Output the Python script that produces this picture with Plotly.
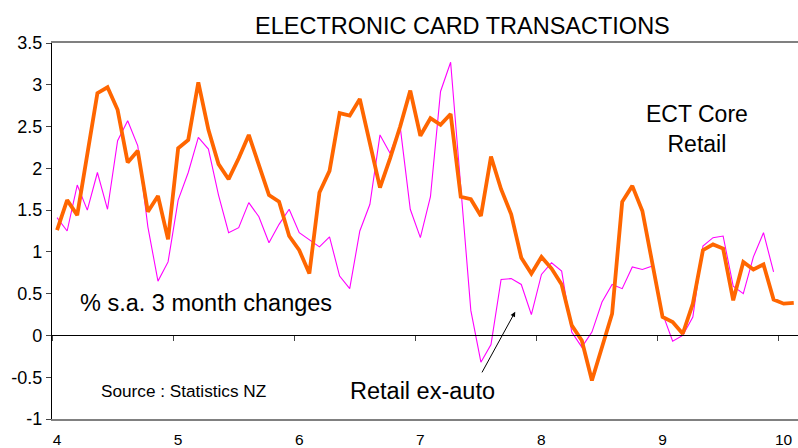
import plotly.graph_objects as go

# Monthly series (index k -> x = 4 + (k + 0.5) / 12)
ect_core_retail = [
    1.26, 1.62, 1.44, 2.15, 2.90, 2.97, 2.70, 2.07, 2.21, 1.48, 1.67, 1.15,
    2.24, 2.34, 3.03, 2.46, 2.05, 1.87, 2.12, 2.40, 2.04, 1.68, 1.60, 1.19,
    1.02, 0.74, 1.71, 1.97, 2.66, 2.63, 2.83, 2.30, 1.77, 2.12, 2.50, 2.93,
    2.39, 2.60, 2.52, 2.65, 1.66, 1.63, 1.43, 2.14, 1.75, 1.45, 0.93, 0.74,
    0.94, 0.80, 0.61, 0.12, -0.06, -0.54, -0.14, 0.26, 1.60, 1.79, 1.49, 0.86,
    0.22, 0.16, 0.02, 0.38, 1.02, 1.09, 1.04, 0.42, 0.88, 0.79, 0.85, 0.43,
    0.38, 0.39,
]
retail_ex_auto = [
    1.41, 1.25, 1.80, 1.50, 1.95, 1.51, 2.33, 2.57, 2.27, 1.30, 0.65, 0.88,
    1.62, 1.95, 2.37, 2.23, 1.68, 1.23, 1.29, 1.59, 1.42, 1.11, 1.33, 1.51,
    1.23, 1.14, 1.06, 1.18, 0.71, 0.56, 1.25, 1.57, 2.40, 2.18, 2.50, 1.51,
    1.17, 1.66, 2.92, 3.27, 1.80, 0.30, -0.32, -0.11, 0.67, 0.68, 0.61, 0.25,
    0.73, 0.87, 0.77, 0.04, -0.14, 0.04, 0.40, 0.61, 0.56, 0.82, 0.79, 0.83,
    0.26, -0.07, 0.00, 0.22, 1.07, 1.17, 1.19, 0.59, 0.50, 0.94, 1.23, 0.76,
]
x_tick_vals = [4, 5, 6, 7, 8, 9, 10]
x_tick_text = ["4", "5", "6", "7", "8", "9", "10"]
y_tick_vals = [-1, -0.5, 0, 0.5, 1, 1.5, 2, 2.5, 3, 3.5]
y_tick_text = ["-1", "-0.5", "0", "0.5", "1", "1.5", "2", "2.5", "3", "3.5"]

x_core = [4 + (k + 0.5) / 12 for k in range(len(ect_core_retail))]
x_ex = [4 + (k + 0.5) / 12 for k in range(len(retail_ex_auto))]

FONT = "Liberation Sans, Arial, sans-serif"
X_RANGE = [4, 10.16]
Y_RANGE = [-1, 3.5]

fig = go.Figure()
# empty trace so the zero-line axis (x2) gets drawn
fig.add_trace(go.Scatter(x=[], y=[], xaxis="x2", yaxis="y",
                         mode="lines", hoverinfo="skip", showlegend=False))
fig.add_trace(go.Scatter(
    x=x_ex, y=retail_ex_auto, mode="lines",
    line=dict(color="#FF00FF", width=1.1), name="Retail ex-auto",
))
fig.add_trace(go.Scatter(
    x=x_core, y=ect_core_retail, mode="lines",
    line=dict(color="#FF6600", width=3.8), name="ECT Core Retail",
))

fig.update_layout(
    width=798, height=448,
    margin=dict(l=52, r=0, t=43, b=29),
    paper_bgcolor="white", plot_bgcolor="white",
    showlegend=False,
    font=dict(family=FONT, color="black", size=14),
    xaxis=dict(
        range=X_RANGE, showgrid=False, zeroline=False, automargin=False,
        showline=True, linecolor="#808080", linewidth=1.5, mirror=True,
        ticks="", tickvals=x_tick_vals, ticktext=x_tick_text,
        tickfont=dict(size=15.5, family=FONT, color="black"),
        ticklabelshift=5, ticklabelstandoff=6,
    ),
    xaxis2=dict(
        range=X_RANGE, overlaying="x", anchor="free", automargin=False,
        position=(0 - Y_RANGE[0]) / (Y_RANGE[1] - Y_RANGE[0]),
        showgrid=False, zeroline=False,
        showline=True, linecolor="black", linewidth=1,
        ticks="outside", ticklen=5, tickcolor="#444444",
        tickvals=x_tick_vals, showticklabels=False,
    ),
    yaxis=dict(
        range=Y_RANGE, showgrid=False, zeroline=False, automargin=False,
        showline=True, linecolor="black", linewidth=1.2,
        ticks="outside", ticklen=5, tickcolor="#444444",
        tickvals=y_tick_vals, ticktext=y_tick_text,
        tickfont=dict(size=18, family=FONT, color="black"),
    ),
)

annotations = [
    dict(text="ELECTRONIC CARD TRANSACTIONS", xref="paper", yref="paper",
         x=0.5496, y=1.045, xanchor="center", yanchor="middle",
         showarrow=False, font=dict(size=23.5, family=FONT)),
    dict(text="ECT Core<br>Retail", xref="x", yref="y",
         x=9.33, y=2.47, xanchor="center", yanchor="middle",
         showarrow=False, font=dict(size=23, family=FONT)),
    dict(text="% s.a. 3 month changes", xref="x", yref="y",
         x=4.216, y=0.39, xanchor="left", yanchor="middle",
         showarrow=False, font=dict(size=23.5, family=FONT)),
    dict(text="Source : Statistics NZ", xref="x", yref="y",
         x=4.39, y=-0.664, xanchor="left", yanchor="middle",
         showarrow=False, font=dict(size=17.2, family=FONT)),
    dict(text="Retail ex-auto", xref="x", yref="y",
         x=6.447, y=-0.664, xanchor="left", yanchor="middle",
         showarrow=False, font=dict(size=23.5, family=FONT)),
    dict(text="", xref="x", yref="y", axref="x", ayref="y",
         x=7.825, y=0.284, ax=7.544, ay=-0.46,
         showarrow=True, arrowhead=2, arrowsize=1, arrowwidth=1,
         arrowcolor="black", standoff=0, startstandoff=0),
]
fig.update_layout(annotations=annotations)

fig.write_html(
    "out.html",
    config={"displayModeBar": False},
    post_script="document.body.style.margin='0';document.body.style.overflow='hidden';",
)
